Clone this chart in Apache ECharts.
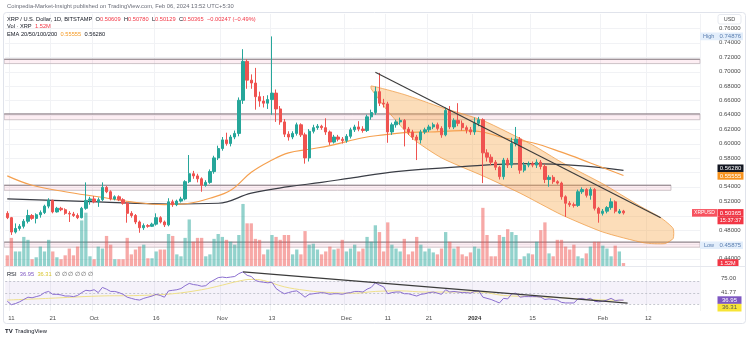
<!DOCTYPE html>
<html><head><meta charset="utf-8">
<script src="https://cdn.jsdelivr.net/npm/echarts@6/dist/echarts.min.js"></script>
<style>html,body{margin:0;padding:0;background:#fff;}#c{width:750px;height:339px;}</style>
</head><body><div id="c"></div>
<script>
// ---------------- DATA ----------------
const startDateUTC = [2023, 8, 10];   // first candle: 2023-09-10
const nSlots = 168;                   // daily slots on the time axis (incl. empty future)
// [open, close, low, high]
const ohlc = [
[0.503,0.497,0.495,0.506],[0.497,0.477,0.473,0.498],[0.477,0.482,0.475,0.489],[0.482,0.485,0.479,0.488],[0.485,0.492,0.482,0.495],
[0.492,0.500,0.489,0.508],[0.500,0.496,0.494,0.502],[0.496,0.501,0.489,0.503],[0.501,0.504,0.497,0.507],[0.504,0.513,0.502,0.515],
[0.513,0.521,0.510,0.524],[0.521,0.505,0.503,0.522],[0.505,0.510,0.504,0.512],[0.510,0.508,0.506,0.512],[0.508,0.503,0.501,0.510],
[0.503,0.502,0.491,0.506],[0.502,0.500,0.498,0.505],[0.500,0.497,0.495,0.503],[0.497,0.510,0.496,0.512],[0.510,0.521,0.508,0.546],
[0.521,0.523,0.515,0.526],[0.523,0.519,0.517,0.527],[0.519,0.522,0.512,0.525],[0.522,0.539,0.520,0.546],[0.539,0.533,0.531,0.541],
[0.533,0.523,0.521,0.535],[0.523,0.526,0.521,0.528],[0.526,0.522,0.520,0.528],[0.522,0.517,0.515,0.524],[0.517,0.503,0.490,0.519],
[0.503,0.500,0.497,0.506],[0.500,0.491,0.488,0.502],[0.491,0.483,0.476,0.493],[0.483,0.486,0.480,0.489],[0.486,0.485,0.483,0.488],
[0.485,0.488,0.484,0.490],[0.488,0.497,0.486,0.503],[0.497,0.491,0.489,0.499],[0.491,0.487,0.484,0.493],[0.487,0.519,0.485,0.524],
[0.519,0.515,0.512,0.522],[0.515,0.520,0.513,0.522],[0.520,0.523,0.518,0.526],[0.523,0.547,0.521,0.549],[0.547,0.558,0.545,0.584],
[0.558,0.555,0.551,0.562],[0.555,0.551,0.546,0.558],[0.551,0.542,0.533,0.553],[0.542,0.546,0.540,0.549],[0.546,0.561,0.544,0.564],
[0.561,0.580,0.558,0.583],[0.580,0.593,0.577,0.597],[0.593,0.605,0.590,0.609],[0.605,0.600,0.597,0.615],[0.600,0.609,0.596,0.612],
[0.609,0.614,0.606,0.618],[0.614,0.660,0.610,0.664],[0.660,0.714,0.655,0.731],[0.714,0.688,0.676,0.717],[0.688,0.684,0.676,0.696],
[0.684,0.665,0.647,0.705],[0.665,0.659,0.651,0.672],[0.659,0.656,0.650,0.666],[0.656,0.661,0.648,0.667],[0.661,0.670,0.640,0.74876],
[0.670,0.648,0.630,0.675],[0.648,0.630,0.626,0.652],[0.630,0.613,0.609,0.634],[0.613,0.609,0.604,0.617],[0.609,0.614,0.606,0.617],
[0.614,0.626,0.611,0.629],[0.626,0.612,0.609,0.628],[0.612,0.580,0.572,0.615],[0.580,0.617,0.575,0.620],[0.617,0.622,0.614,0.626],
[0.622,0.624,0.619,0.627],[0.624,0.622,0.619,0.626],[0.622,0.616,0.612,0.635],[0.616,0.602,0.598,0.618],[0.602,0.609,0.600,0.612],
[0.609,0.606,0.603,0.612],[0.606,0.604,0.600,0.609],[0.604,0.610,0.601,0.613],[0.610,0.619,0.607,0.622],[0.619,0.623,0.616,0.626],
[0.623,0.620,0.617,0.631],[0.620,0.618,0.615,0.624],[0.618,0.637,0.616,0.640],[0.637,0.643,0.633,0.647],[0.643,0.672,0.640,0.679],
[0.672,0.656,0.652,0.698],[0.656,0.655,0.650,0.662],[0.655,0.616,0.601,0.658],[0.616,0.626,0.612,0.629],[0.626,0.630,0.622,0.633],
[0.630,0.632,0.626,0.636],[0.632,0.620,0.596,0.634],[0.620,0.616,0.612,0.623],[0.616,0.609,0.605,0.619],[0.609,0.605,0.577,0.612],
[0.605,0.616,0.600,0.619],[0.616,0.619,0.613,0.622],[0.619,0.623,0.616,0.626],[0.623,0.626,0.620,0.629],[0.626,0.621,0.618,0.629],
[0.621,0.612,0.608,0.624],[0.612,0.646,0.610,0.650],[0.646,0.623,0.620,0.652],[0.623,0.632,0.620,0.635],[0.632,0.628,0.624,0.656],
[0.628,0.622,0.618,0.632],[0.622,0.619,0.614,0.625],[0.619,0.616,0.612,0.623],[0.616,0.628,0.612,0.636],[0.628,0.633,0.624,0.637],
[0.633,0.587,0.545,0.635],[0.587,0.581,0.575,0.592],[0.581,0.574,0.570,0.585],[0.574,0.567,0.563,0.577],[0.567,0.554,0.550,0.569],
[0.554,0.577,0.550,0.580],[0.577,0.570,0.566,0.580],[0.570,0.600,0.566,0.608],[0.600,0.606,0.596,0.623],[0.606,0.563,0.558,0.609],
[0.563,0.570,0.560,0.574],[0.570,0.572,0.567,0.575],[0.572,0.570,0.567,0.575],[0.570,0.574,0.566,0.578],[0.574,0.568,0.564,0.577],
[0.568,0.550,0.545,0.571],[0.550,0.553,0.540,0.556],[0.553,0.547,0.544,0.556],[0.547,0.545,0.543,0.549],[0.545,0.526,0.522,0.547],
[0.526,0.517,0.498,0.528],[0.517,0.515,0.512,0.520],[0.515,0.514,0.511,0.518],[0.514,0.533,0.512,0.536],[0.533,0.536,0.530,0.539],
[0.536,0.528,0.525,0.538],[0.528,0.536,0.522,0.539],[0.536,0.510,0.507,0.538],[0.510,0.503,0.490,0.512],[0.503,0.506,0.500,0.509],
[0.506,0.511,0.503,0.513],[0.511,0.519,0.508,0.524],[0.519,0.506,0.503,0.521],[0.5035,0.50609,0.502,0.509],[0.50609,0.50365,0.50129,0.5078]
];
// volume, millions of XRP
const volume = [
5.5,14.5,7.5,7.5,15,13.5,3.5,4.5,10,7.5,13.5,7.5,4.5,3.5,5.5,9,5.5,10,23.5,27.5,
5,3.5,10,9,15.5,11,3.5,3.5,3.5,14.5,6,8.5,10,11,4,4,7.5,8.5,8.5,16.5,
15.5,6,5,14.5,24,12.5,14.5,14.5,5,6,14,16.5,15,13.5,12.5,11,16,32,22,22,
14,13.5,6,8.5,16,15,13.5,16,16,6,8.5,6,18,11,11.5,8.5,6,7.5,10,8.5,
9,13.5,7.5,9,11,7.5,9,15,12.5,21,17.5,7.5,22.5,11,9,7.5,14,6,7.5,15,
11,7.5,9,7,6,9,17.5,12.5,9,10,6,5,7,10,9,30,16,5,5,16,
15,19,17.5,16,3.5,5,6.5,6,12.5,18.5,22.5,6.5,5,13.5,13.5,10,8.5,11,5,4,
6.5,10,12.5,12.5,10.5,9,5,10.5,7.5,1.52
];
const rsi = [
35,29,31,34,38,42,41,43,45,50, 52,47,47,46,44,44,43,45,50,54,
53,55,50,59,56,52,52,50,47,42, 40,38,37,40,42,44,47,45,42,53,
54,55,57,62,66,64,63,61,62,68, 72,76,77,76,77,78,83,86,80,78,
71,69,68,67,68,57,52,48,50,52, 53,48,42,47,48,49,50,49,47,48,
48,47,49,50,52,52,51,56,59,67, 63,60,48,50,51,51,48,48,46,44,
47,48,50,51,49,47,55,51,52,51, 50,50,49,52,53,42,40,38,35,32,
40,39,48,49,42,43,43,43,43,42, 38,39,38,37,33,32,32,32,39,40,
38,40,35,34,35,37,40,36,37,36.95
];
// [day index, value]
const rsiMA = [[0,37],[10,40],[22,44],[32,45],[40,48],[47,55],[52,63],[56,70],[59,73],[62,71],[67,60],[72,54],[76,51],[84,49],[89,52],[95,53],[101,51],[108,51],[114,51],[120,45],[127,43],[134,41],[141,38],[149,36.31]];
const ema50 = [[0,0.555],[6,0.542],[14,0.533],[22,0.526],[30,0.519],[38,0.515],[44,0.517],[49,0.524],[54,0.535],[59,0.560],[64,0.577],[68,0.587],[73,0.592],[78,0.597],[86,0.608],[91,0.612],[96,0.615],[102,0.616],[110,0.618],[115,0.616],[120,0.608],[127,0.601],[134,0.588],[141,0.573],[149,0.55555]];
const ema200 = [[0,0.523],[22,0.519],[39,0.516],[51,0.517],[59,0.531],[68,0.540],[76,0.546],[83,0.552],[94,0.561],[110,0.568],[126,0.572],[139,0.569],[149,0.5628]];
const priceTicks = [0.44,0.46,0.48,0.50,0.52,0.54,0.56,0.58,0.60,0.62,0.64,0.66,0.68,0.70,0.72,0.74,0.76];
const rsiLevels = [70, 50, 30];
const dateTicks = [['2023-09-11','11'],['2023-09-21','21'],['2023-10-01','Oct'],['2023-10-16','16'],['2023-11-01','Nov'],['2023-11-13','13'],['2023-12-01','Dec'],['2023-12-11','11'],['2023-12-21','21'],['2024-01-01','2024'],['2024-01-15','15'],['2024-02-01','Feb'],['2024-02-12','12']];
// horizontal zones: [low, high, last day index]
const zones = [[0.711,0.717,167],[0.633,0.641,167],[0.535,0.542,160],[0.456,0.463,167]];
// descending channel outline [day index, price]
const channel = [[88.3,0.680],[96,0.668],[104.8,0.650],[114.5,0.632],[126.6,0.598],[133.8,0.574],[143.5,0.544],[153.2,0.513],[158,0.497],[160.5,0.482],[160.8,0.468],[158.5,0.461],[153.5,0.462],[143.5,0.477],[133.8,0.501],[124.1,0.531],[114.5,0.555],[104.8,0.580],[97.5,0.607],[91.5,0.645],[88.6,0.668],[87.8,0.676]];
const trendPrice = [[89,0.699],[158,0.497]];
const trendRsi = [[57,86],[150,31.7]];
const lastInfo = {high:0.74876, low:0.45875, close:0.50365, ema1:0.55555, ema2:0.56280, vol:1.52, rsi:36.95, rsiMA:36.31};

// ---------------- CHART ----------------
const FONT = '"Liberation Sans", Arial, sans-serif';
const dates = [];
{ const d0 = Date.UTC(startDateUTC[0], startDateUTC[1], startDateUTC[2]);
  for (let k = 0; k < nSlots; k++) dates.push(new Date(d0 + k*86400000).toISOString().slice(0,10)); }
const tickMap = {}; dateTicks.forEach(t => tickMap[t[0]] = t[1]);
const isTick = (idx, val) => tickMap[val] !== undefined;

const G = {left: 5.2, width: 694.8};
const chart = echarts.init(document.getElementById('c'), null, {renderer:'canvas'});
const UP = '#26a69a', DN = '#ef5350';

function xAx(gi, labels) {
  return {type:'category', gridIndex:gi, data:dates, boundaryGap:true,
    axisLine:{show:false}, axisTick:{show:false},
    axisLabel:{show:labels, interval:isTick, fontSize:6, color:'#4a4a4a', fontFamily:FONT, margin:4,
      formatter:(v)=> tickMap[v]==='2024' ? '{b|2024}' : (tickMap[v]||''),
      rich:{b:{fontWeight:'bold', fontSize:6, color:'#333', fontFamily:FONT}}},
    splitLine:{show: gi!==1, interval:isTick, lineStyle:{color:'#f1f2f5', width:1}}};
}
function overlay(xi, yi, z, anchor, draw) {
  return {type:'custom', xAxisIndex:xi, yAxisIndex:yi, z:z, silent:true, clip:false,
    data:[anchor], renderItem:(params, api)=>draw(params, api)};
}

chart.setOption({
  animation:false,
  backgroundColor:'#fff',
  grid:[
    {left:G.left, width:G.width, top:13.9, height:259.2},
    {left:G.left, width:G.width, top:12, height:254},
    {left:G.left, width:G.width, top:267, height:44}
  ],
  xAxis:[xAx(0,false), xAx(1,false), xAx(2,true)],
  yAxis:[
    {type:'value', gridIndex:0, position:'right', min:0.42, max:0.78, interval:0.02,
     axisLine:{show:false}, axisTick:{show:false}, splitLine:{show:false},
     axisLabel:{fontSize:6, color:'#4a4a4a', fontFamily:FONT, margin:19,
       formatter:(v)=> priceTicks.some(t=>Math.abs(t-v)<1e-6) ? v.toFixed(5) : ''}},
    {type:'value', gridIndex:1, min:0, max:131, show:false},
    {type:'value', gridIndex:2, min:18, max:94.5, show:false}
  ],
  series:[
    overlay(0, 0, 1, [0, 0.5], (params, api)=>{
      const cs = params.coordSys; const ch = [];
      priceTicks.forEach(v=>{ const y = Math.round(api.coord([0, v])[1]) + 0.5;
        ch.push({type:'line', shape:{x1:cs.x, y1:y, x2:cs.x+cs.width, y2:y}, style:{stroke:'#f1f2f5', lineWidth:1}}); });
      zones.forEach(zn=>{
        const p1 = api.coord([zn[2], zn[1]]), p0 = api.coord([zn[2], zn[0]]);
        const x0 = cs.x - 1;
        ch.push({type:'rect', shape:{x:x0, y:p1[1], width:p1[0]-x0+2, height:p0[1]-p1[1]},
          style:{fill:'rgba(236,64,122,0.09)', stroke:'#c2b6bb', lineWidth:0.8}});
        ch.push({type:'line', shape:{x1:x0, y1:p1[1], x2:p1[0]+2, y2:p1[1]}, style:{stroke:'#8d8188', lineWidth:1}});
      });
      return {type:'group', children:ch};
    }),
    {type:'bar', xAxisIndex:1, yAxisIndex:1, barWidth:'80%', z:1, silent:true,
     data: volume.map((v,k)=>({value:v, itemStyle:{color: ohlc[k][1]>=ohlc[k][0] ? 'rgba(38,166,154,0.5)' : 'rgba(239,83,80,0.5)'}}))},
    overlay(0, 0, 3, channel[0], (params, api)=>({type:'polygon',
       shape:{points: channel.map(p=>api.coord(p)), smooth:0.2},
       style:{fill:'rgba(247,160,60,0.36)', stroke:'rgba(238,150,60,0.9)', lineWidth:0.8}})),
    {type:'line', xAxisIndex:0, yAxisIndex:0, data:ema200, smooth:0.4, symbol:'none', z:4,
     lineStyle:{color:'#3a3d45', width:1.2}},
    {type:'line', xAxisIndex:0, yAxisIndex:0, data:ema50, smooth:0.4, symbol:'none', z:4,
     lineStyle:{color:'#f5a04f', width:1.2}},
    {type:'candlestick', xAxisIndex:0, yAxisIndex:0, barWidth:'68%', z:5,
     data: ohlc.map(r=>[r[0], r[1], r[2], r[3]]),
     itemStyle:{color:UP, color0:DN, borderColor:UP, borderColor0:DN, borderWidth:1}},
    {type:'line', xAxisIndex:0, yAxisIndex:0, data:trendPrice, symbol:'none', z:6,
     lineStyle:{color:'#3b3b3b', width:1.1}},
    overlay(2, 2, 1, [0, 50], (params, api)=>{
      const cs = params.coordSys;
      const yTop = api.coord([0, rsiLevels[0]])[1], yBot = api.coord([0, rsiLevels[2]])[1];
      const ch = [{type:'rect', shape:{x:cs.x, y:yTop, width:cs.width, height:yBot-yTop}, style:{fill:'rgba(126,87,194,0.08)'}}];
      rsiLevels.forEach(v=>{ const y = Math.round(api.coord([0, v])[1]) + 0.5;
        ch.push({type:'line', shape:{x1:cs.x, y1:y, x2:cs.x+cs.width, y2:y}, style:{stroke:'#b8bac4', lineWidth:0.8, lineDash:[2,2]}}); });
      return {type:'group', children:ch};
    }),
    {type:'line', xAxisIndex:2, yAxisIndex:2, data:rsiMA, smooth:0.4, symbol:'none', z:3,
     lineStyle:{color:'#efe08a', width:1}},
    {type:'line', xAxisIndex:2, yAxisIndex:2, data:rsi, symbol:'none', z:4,
     lineStyle:{color:'#8b6fd0', width:1}},
    {type:'line', xAxisIndex:2, yAxisIndex:2, data:trendRsi, symbol:'none', z:5,
     lineStyle:{color:'#3b3b3b', width:1.3}}
  ]
});

// ---------- overlay labels positioned through the axes ----------
const py = v => chart.convertToPixel({yAxisIndex:0}, v);
const vy = v => chart.convertToPixel({yAxisIndex:1}, v);
const ry = v => chart.convertToPixel({yAxisIndex:2}, v);
const H = 7.6;
function tag(x, yc, w, fill, text, color, size) {
  return [
    {type:'rect', shape:{x:x, y:yc-H/2, width:w, height:H}, style:{fill:fill}, z:20},
    {type:'text', x:x + w/2, y:yc, style:{text:text, fill:color, font:(size||6)+'px '+FONT, textAlign:'center', textVerticalAlign:'middle'}, z:21}
  ];
}
function txt(x, y, text, color, font) {
  return {type:'text', x:x, y:y, z:21, style:{text:text, fill:color, font:(typeof font==='number' ? font+'px '+FONT : font), textVerticalAlign:'middle'}};
}
const HF = '5.7px ' + FONT;
const els = [];
els.push({type:'rect', shape:{x:3.5, y:12.5, width:742, height:311, r:3}, style:{fill:null, stroke:'#e0e3eb', lineWidth:1}, z:30});
els.push({type:'line', shape:{x1:3.5, y1:266.5, x2:745.5, y2:266.5}, style:{stroke:'#e6e8ee', lineWidth:1}, z:30});
els.push(txt(7, 6, 'Coinpedia-Market-Insight published on TradingView.com, Feb 06, 2024 13:52 UTC+5:30', '#6a6d78', 5.8));
els.push({type:'text', x:7, y:19, z:21, style:{text:'{n|XRP / U.S. Dollar, 1D, BITSTAMP} {n|O}{r|0.50609} {n|H}{r|0.50780} {n|L}{r|0.50129} {n|C}{r|0.50365} {r|\u22120.00247 (\u22120.49%)}',
  textVerticalAlign:'middle', rich:{n:{fill:'#131722', font:HF}, r:{fill:'#f23645', font:HF}}}});
els.push({type:'text', x:7, y:26.5, z:21, style:{text:'{n|Vol \u00b7 XRP} {r|1.52M}', textVerticalAlign:'middle',
  rich:{n:{fill:'#131722', font:HF}, r:{fill:'#f23645', font:HF}}}});
els.push({type:'text', x:7, y:34, z:21, style:{text:'{n|EMA 20/50/100/200} {o|0.55555} {n|0.56280}', textVerticalAlign:'middle',
  rich:{n:{fill:'#131722', font:HF}, o:{fill:'#f59a23', font:HF}}}});
els.push({type:'rect', shape:{x:718, y:14.5, width:23, height:9.5, r:2}, style:{fill:'#fff', stroke:'#e0e3eb', lineWidth:0.8}, z:20});
els.push({type:'text', x:729.5, y:19.3, z:21, style:{text:'USD', fill:'#4a4a4a', font:'5.5px '+FONT, textAlign:'center', textVerticalAlign:'middle'}});
const yh = py(lastInfo.high);
els.push({type:'rect', shape:{x:700, y:yh-H/2, width:43, height:H}, style:{fill:'#e3eefb'}, z:20});
els.push(txt(703, yh, 'High', '#5a7eb0', 5.5));
els.push(txt(719.5, yh, lastInfo.high.toFixed(5), '#5a7eb0', 6));
const yl = py(lastInfo.low);
els.push({type:'rect', shape:{x:700, y:yl-H/2, width:43, height:H}, style:{fill:'#e3eefb'}, z:20});
els.push(txt(704, yl, 'Low', '#5a7eb0', 5.5));
els.push(txt(719.5, yl, lastInfo.low.toFixed(5), '#5a7eb0', 6));
const ye2 = py(lastInfo.ema2) - 2;
els.push(...tag(717.5, ye2, 26, '#131722', lastInfo.ema2.toFixed(5), '#fff'));
els.push(...tag(717.5, ye2 + H, 26, '#f7931e', lastInfo.ema1.toFixed(5), '#fff'));
const yc = py(lastInfo.close);
els.push(...tag(692, yc, 25, '#f7525f', 'XRPUSD', '#fff', 5));
els.push(...tag(717.5, yc, 26, '#f23645', lastInfo.close.toFixed(5), '#fff'));
els.push(...tag(717.5, yc + H, 26, '#f23645', '15:37:37', '#fff', 5.5));
els.push(...tag(717.5, vy(lastInfo.vol), 21, '#f23645', '1.52M', '#fff', 5.5));
els.push(txt(721, ry(75), '75.00', '#4a4a4a', 6));
els.push(txt(721, ry(41.77) - 4.6, '41.77', '#4a4a4a', 6));
const yr = ry(lastInfo.rsi);
els.push(...tag(717.5, yr, 24, '#7e57c2', lastInfo.rsi.toFixed(2), '#fff'));
els.push(...tag(717.5, yr + H, 24, '#f7e436', lastInfo.rsiMA.toFixed(2), '#555'));
els.push({type:'text', x:7, y:274, z:21, style:{text:'{n|RSI} {p|36.95} {y|36.31} {g|\u2205 \u2205 \u2205 \u2205 \u2205 \u2205}', textVerticalAlign:'middle',
  rich:{n:{fill:'#131722', font:HF}, p:{fill:'#7e57c2', font:HF}, y:{fill:'#d8c630', font:HF}, g:{fill:'#555', font:HF}}}});
els.push(txt(5, 331.5, 'TV', '#131722', 'bold 6px ' + FONT));
els.push(txt(15, 331.5, 'TradingView', '#131722', '5.8px ' + FONT));
chart.setOption({graphic:{elements:els}});
</script>
</body></html>
